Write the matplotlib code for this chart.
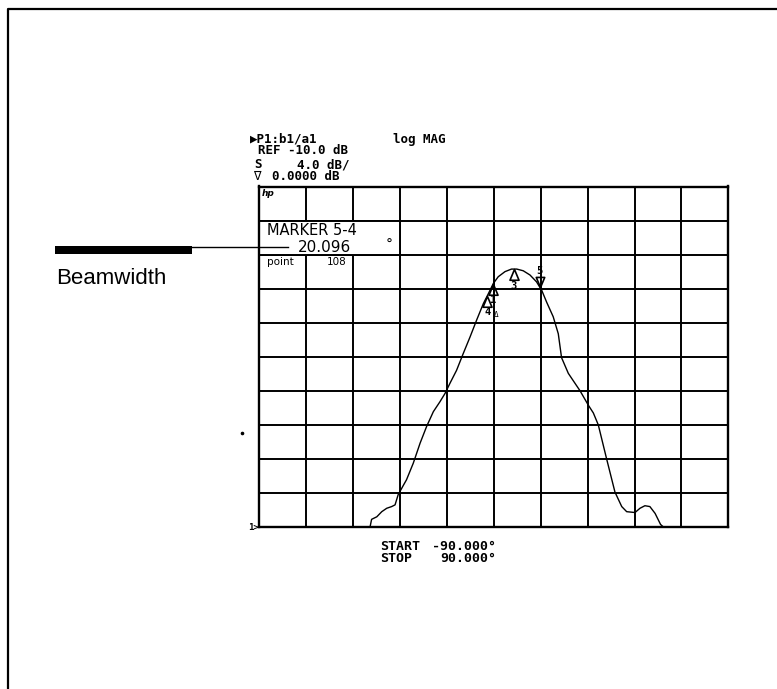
import numpy as np
import matplotlib
matplotlib.use("Agg")
import matplotlib.pyplot as plt
from matplotlib.path import Path
from matplotlib.patches import Rectangle
from matplotlib.lines import Line2D

# ---------------- data ----------------
angle_deg = [-90, -47.5, -46.9, -44.9, -43.0, -41.1, -39.2, -37.9, -36.7, -34.7,
             -33.5, -30.9, -28.3, -25.8, -23.2, -20.7, -18.7, -16.8, -14.3, -11.7,
             -9.15, -6.6, -4.0, -2.1, -0.2, 1.7, 4.3, 6.8, 8.8, 11.3,
             13.9, 16.4, 18.4, 20.3, 22.8, 24.75, 26.0, 28.6, 33.1, 36.3,
             38.2, 40.1, 43.3, 46.5, 49.1, 51.0, 54.2, 56.1, 58.0, 59.9,
             61.9, 64.0, 65.1, 90]
mag_db = [-10, -10, -9.1, -8.8, -8.2, -7.8, -7.6, -7.4, -6.2, -5.1,
          -4.45, -2.5, -0.16, 1.8, 3.55, 4.7, 5.7, 6.9, 8.4, 10.4,
          12.3, 14.3, 16.25, 17.4, 18.6, 19.4, 20.0, 20.3, 20.3, 20.1,
          19.6, 18.8, 17.8, 16.4, 14.7, 12.7, 9.9, 8.05, 6.0, 4.3,
          3.4, 2.0, -2.0, -5.9, -7.6, -8.2, -8.3, -7.8, -7.5, -7.6,
          -8.4, -9.7, -10, -10]

marker_ids = ["1", "3", "4"]
marker_deg = [-0.2, 7.7, -2.5]
active_id = "5"
active_deg = 17.6

x_start, x_stop = -90.0, 90.0
ref_db = -10.0
scale_db = 4.0
n_div = 10

hdr_channel = "\u25B6P1:b1/a1"
hdr_format = "log MAG"
hdr_ref = "REF -10.0 dB"
hdr_scale = "4.0 dB/"
hdr_mkval = "0.0000 dB"
box_title = "MARKER 5-4"
box_value = "20.096"
box_point = "108"
start_txt = "-90.000\u00B0"
stop_txt = "90.000\u00B0"

# ---------------- figure ----------------
W, H = 777, 689
fig = plt.figure(figsize=(W / 100, H / 100), dpi=100)
fig.patch.set_facecolor("white")

def fx(x):
    return x / W

def fy(y):
    return 1 - y / H

L, R, T, B = 259.3, 728.3, 186.5, 527.0
ax = fig.add_axes([fx(L), fy(B), (R - L) / W, (B - T) / H])
ax.set_xlim(x_start, x_stop)
top_db = ref_db + scale_db * n_div
ax.set_ylim(ref_db, top_db)
ax.set_xticks(np.linspace(x_start, x_stop, n_div + 1))
ax.set_yticks(np.linspace(ref_db, top_db, n_div + 1))
ax.tick_params(length=0, labelleft=False, labelbottom=False)
ax.grid(True, color="black", lw=1.4)
ax.set_axisbelow(True)
for s in ax.spines.values():
    s.set_linewidth(1.7)

# marker box (cleared grid area)
step_x = (x_stop - x_start) / n_div
ax.add_patch(Rectangle((x_start, top_db - 2 * scale_db), 3 * step_x, scale_db,
                       facecolor="white", edgecolor="black", lw=1.4, zorder=1))

ax.plot(angle_deg, mag_db, color="black", lw=1.0, zorder=3)

# markers
up_tri = Path([(0, 0), (-0.42, -1), (0.42, -1), (0, 0)],
              [Path.MOVETO, Path.LINETO, Path.LINETO, Path.CLOSEPOLY])
dn_tri = Path([(0, 0), (-0.42, 1), (0.42, 1), (0, 0)],
              [Path.MOVETO, Path.LINETO, Path.LINETO, Path.CLOSEPOLY])
mono = ["DejaVu Sans Mono", "DejaVu Sans"]

my = np.interp(marker_deg, angle_deg, mag_db)
ax.plot(marker_deg, my, ls="none", marker=up_tri, ms=15.5, mfc="none",
        mec="black", mew=1.2, zorder=4)
for lab, xv, yv in zip(marker_ids, marker_deg, my):
    ax.annotate(lab, (xv, yv), xytext=(0, -12), textcoords="offset points",
                ha="center", va="center", fontsize=7.5, family=mono,
                fontweight="bold", zorder=5)
    if lab == "4":
        ax.annotate("\u0394", (xv, yv), xytext=(6.5, -13.5), textcoords="offset points",
                    ha="center", va="center", fontsize=5.5, family=mono, zorder=5)

ay = float(np.interp(active_deg, angle_deg, mag_db))
ax.plot([active_deg], [ay], ls="none", marker=dn_tri, ms=14.5, mfc="none",
        mec="black", mew=1.2, zorder=4)
ax.annotate(active_id, (active_deg, ay), xytext=(0, 11.5), textcoords="offset points",
            ha="center", va="center", fontsize=7.5, family=mono, fontweight="bold")

# ---------------- annotations / text ----------------
def put(x, y, s, size, ha="left", family=mono, weight="bold", **kw):
    fig.text(fx(x), fy(y), s, fontsize=size, ha=ha, va="center",
             family=family, fontweight=weight, **kw)

put(250, 139, hdr_channel, 9)
put(393, 139, hdr_format, 9)
put(258, 151, hdr_ref, 9)
put(254, 164, "S", 9)
put(297, 165, hdr_scale, 9)
put(253, 176, "\u2207", 9, weight="normal")
put(272, 177, hdr_mkval, 9)
put(262, 193, "hp", 6.5, weight="bold", style="italic", family=["DejaVu Sans"])
put(259, 527, "1>", 6.5, ha="right")

sans = ["DejaVu Sans"]
put(267, 230.5, box_title, 10.5, family=sans, weight="normal")
put(298, 248, box_value, 11, family=sans, weight="normal")
put(386, 245, "\u00B0", 10, family=sans, weight="normal")
put(267, 262.5, "point", 7.5, family=sans, weight="normal")
put(327, 262.5, box_point, 7.5, family=sans, weight="normal")

put(380, 546, "START", 9.5)
put(432, 546, start_txt, 9.5)
put(380, 559, "STOP", 9.5)
put(440, 559, stop_txt, 9.5)

put(56, 278, "Beamwidth", 16, family=["Liberation Sans", "DejaVu Sans"], weight="normal")

# beamwidth leader
fig.add_artist(Rectangle((fx(55), fy(253.5)), (192 - 55) / W, 7.5 / H,
                         transform=fig.transFigure, facecolor="black",
                         edgecolor="none"))
fig.add_artist(Line2D([fx(192), fx(288)], [fy(246.5), fy(246.5)],
                      transform=fig.transFigure, color="black", lw=1.0))

# outer page frame
fig.add_artist(Line2D([fx(8), fx(8), 1.0], [0.0, fy(9), fy(9)],
                      transform=fig.transFigure, color="black", lw=1.6))
# stray scan dot
fig.add_artist(Line2D([fx(241.7)], [fy(433)], transform=fig.transFigure,
                      marker="o", ms=1.6, color="black", ls="none"))

fig.savefig("out.png", dpi=100, facecolor="white")
